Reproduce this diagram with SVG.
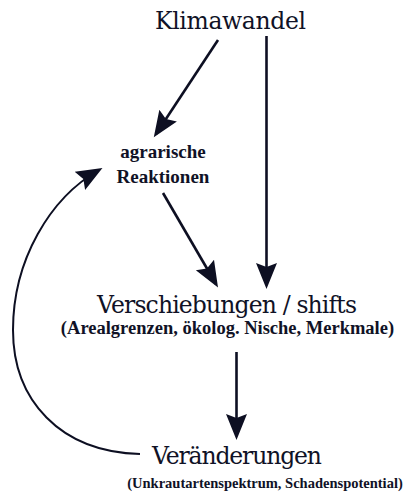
<svg xmlns="http://www.w3.org/2000/svg" width="407" height="497" viewBox="0 0 407 497">
<style>
  text { font-family: "DejaVu Serif", "Liberation Serif", serif; fill: #101226; text-anchor: middle; }
  .big { font-size: 23.5px; }
  .mid { font-family: "Liberation Serif", "DejaVu Serif", serif; font-size: 19px; font-weight: bold; }
  .sub { font-family: "Liberation Serif", "DejaVu Serif", serif; font-size: 18.5px; font-weight: bold; }
  .sub2 { font-family: "Liberation Serif", "DejaVu Serif", serif; font-size: 14.5px; font-weight: bold; }
  .conn { stroke: #0d0f22; stroke-width: 2.6; fill: none; }
  .thin { stroke: #0d0f22; stroke-width: 2; fill: none; }
</style>
<defs>
  <marker id="ah" markerUnits="userSpaceOnUse" markerWidth="30" markerHeight="24" viewBox="0 -12 30 24" refX="22" refY="0" orient="auto">
    <path d="M26,0 L0,-10.5 L4,0 L0,10.5 Z" fill="#0d0f22"/>
  </marker>
</defs>
<rect width="407" height="497" fill="#ffffff"/>
<g id="connectors">
  <line class="conn" x1="218" y1="40" x2="156" y2="134" marker-end="url(#ah)"/>
  <line class="conn" x1="266.5" y1="36" x2="266.5" y2="285" marker-end="url(#ah)"/>
  <line class="conn" x1="163" y1="193" x2="216" y2="284" marker-end="url(#ah)"/>
  <line class="conn" x1="236.5" y1="352" x2="236.5" y2="436" marker-end="url(#ah)"/>
  <path class="thin" d="M140,454 C60,452 13,400 13,330 C13,260 50,198 99,170" marker-end="url(#ah)"/>
</g>
<g id="klimawandel">
  <text class="big" x="230.5" y="29" textLength="151">Klimawandel</text>
</g>
<g id="agrarische">
  <text class="mid" x="163" y="158">agrarische</text>
  <text class="mid" x="163" y="183">Reaktionen</text>
</g>
<g id="verschiebungen">
  <text class="big" x="227" y="313" textLength="260">Verschiebungen / shifts</text>
  <text class="sub" x="227.5" y="334">(Arealgrenzen, ökolog. Nische, Merkmale)</text>
</g>
<g id="veraenderungen">
  <text class="big" x="237" y="464" textLength="170">Veränderungen</text>
  <text class="sub2" x="265" y="488">(Unkrautartenspektrum, Schadenspotential)</text>
</g>
</svg>
